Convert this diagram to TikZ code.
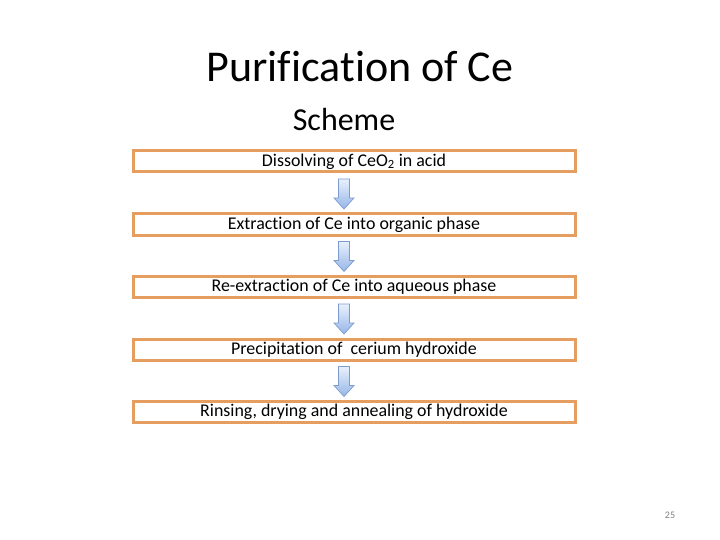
\documentclass[tikz,border=0pt]{standalone}
\usepackage{fontspec}
\setmainfont[Ligatures={TeX,NoCommon}]{Carlito}
\usetikzlibrary{positioning,calc}

\definecolor{stepedge}{RGB}{230,158,96}
\definecolor{arrowedge}{RGB}{125,155,205}
\definecolor{arrowtop}{RGB}{232,240,252}
\definecolor{arrowbot}{RGB}{150,182,232}

\tikzset{
  stepbox/.style={draw=stepedge, line width=3pt, minimum width=442pt, minimum height=21pt,
    inner sep=0pt, font=\fontsize{17.9}{20}\selectfont},
  blockarrow/.style={draw=arrowedge, line width=0.7pt, line join=miter,
    top color=arrowtop, bottom color=arrowbot}
}

\begin{document}
\begin{tikzpicture}[x=1pt,y=-1pt]
\useasboundingbox (0,0) rectangle (720,540);

% Titles
\node (title) at (360,67) {\fontsize{44}{48}\selectfont Purification of Ce};
\node (sub) at (344,120) {\fontsize{32}{36}\selectfont Scheme};

% Steps of the scheme
\node[stepbox] (s1) at (354,161.5) {Dissolving of CeO\textsubscript{2} in acid};
\node[stepbox] (s2) at (354,224.5) {Extraction of Ce into organic phase};
\node[stepbox] (s3) at (354,286.5) {Re-extraction of Ce into aqueous phase};
\node[stepbox] (s4) at (354,349.5) {Precipitation of~ cerium hydroxide};
\node[stepbox] (s5) at (354,411.5) {Rinsing, drying and annealing of hydroxide};

% Block arrows between the steps
\foreach \a/\b in {s1/s2,s2/s3,s3/s4,s4/s5} {
  \coordinate (\a mid) at ($($(\a.south)!0.5!(\b.north)$)+(-10,1)$);
  \draw[blockarrow] ($(\a mid)+(-5.5,-15)$) -- ++(0,19) -- ++(-4.5,0) -- ++(10,11)
    -- ++(10,-11) -- ++(-4.5,0) -- ++(0,-19) -- cycle;
}

% Page number
\node[text=gray, font=\fontsize{10}{12}\selectfont] (page) at (670,515) {25};
\end{tikzpicture}
\end{document}
